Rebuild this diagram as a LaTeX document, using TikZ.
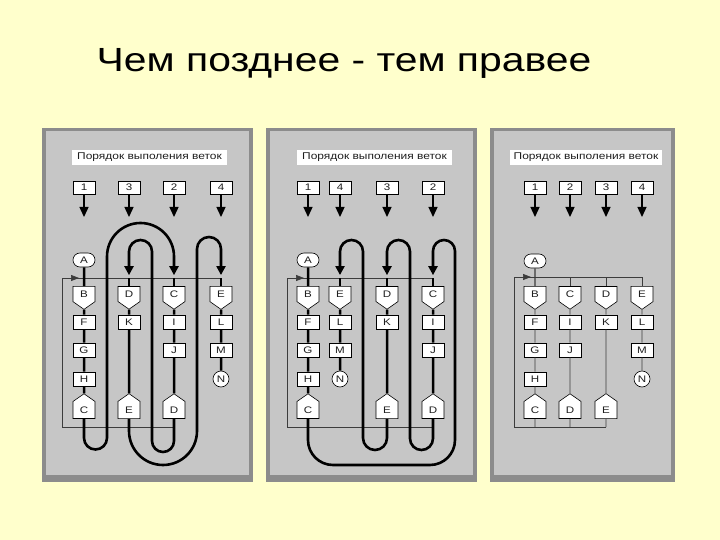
\documentclass[tikz,border=0pt]{standalone}
\usepackage{fontspec}
\setmainfont{Liberation Sans}
\usetikzlibrary{arrows.meta,shapes.symbols,shapes.misc}
\definecolor{slidebg}{RGB}{255,255,204}
\definecolor{panelgray}{RGB}{198,198,198}
\definecolor{paneledge}{RGB}{140,140,140}
\definecolor{inkgray}{RGB}{30,30,30}
\definecolor{framegray}{RGB}{60,60,60}
\newcommand{\wideT}[1]{\scalebox{1.22}[1]{#1}}
\begin{document}
\begin{tikzpicture}[x=1pt,y=-1pt,
  every node/.style={font=\fontsize{9.5}{10}\selectfont, text=inkgray},
  box/.style={draw=black, fill=white, line width=0.6pt, minimum width=22pt, minimum height=14pt, inner sep=0pt},
  numbox/.style={box, minimum height=13pt},
  pill/.style={box, rounded rectangle},
  endpill/.style={box, rounded rectangle, minimum width=16pt, minimum height=16pt},
  forkdown/.style={box, signal, signal to=south, signal pointer angle=110, minimum height=18pt},
  joinup/.style={box, signal, signal to=north, signal pointer angle=110, minimum height=20pt},
  header/.style={fill=white, minimum width=155pt, minimum height=15pt, inner sep=0pt, font=\fontsize{9.8}{10}\selectfont},
  numarrow/.style={line width=1.3pt, -{Triangle[width=9pt,length=10pt]}},
  chain/.style={line width=2.5pt, black},
  loopline/.style={line width=2.6pt, black, -{Triangle[width=9pt,length=9pt]}, shorten >=11pt},
  frame/.style={line width=0.7pt, framegray},
  framearrow/.style={frame, -{Triangle[width=6pt,length=8pt]}},
  thinchain/.style={line width=0.8pt, framegray}
]
\useasboundingbox (0,0) rectangle (720,540);
\fill[slidebg] (0,0) rectangle (720,540);

\node[anchor=base, text=black, font=\fontsize{33.5}{40}\selectfont] (title) at (344,72) {\wideT{Чем позднее - тем правее}};

% panels
\fill[paneledge] (42,128) rectangle (253,482);
\fill[panelgray] (46,131) rectangle (249,475);
\fill[paneledge] (266,128) rectangle (477,482);
\fill[panelgray] (270,131) rectangle (473,475);
\fill[paneledge] (490,128) rectangle (675,482);
\fill[panelgray] (494,131) rectangle (671,475);

% ================= Panel 1 =================
\node[header] (aHd) at (149.5,157.5) {\wideT{Порядок выполения веток}};
\node[numbox] (an1) at (84,187.5) {\wideT{1}};
\node[numbox] (an3) at (129,187.5) {\wideT{3}};
\node[numbox] (an2) at (174,187.5) {\wideT{2}};
\node[numbox] (an4) at (221,187.5) {\wideT{4}};
\coordinate (at1) at (84,217); \coordinate (at3) at (129,217);
\coordinate (at2) at (174,217); \coordinate (at4) at (221,217);
\draw[numarrow] (an1) -- (at1);
\draw[numarrow] (an3) -- (at3);
\draw[numarrow] (an2) -- (at2);
\draw[numarrow] (an4) -- (at4);

\node[pill] (aA) at (84,260) {\wideT{A}};
\node[forkdown] (aB) at (84,294) {\wideT{B}};
\node[forkdown] (aD) at (129,294) {\wideT{D}};
\node[forkdown] (aC) at (174,294) {\wideT{C}};
\node[forkdown] (aE) at (221,294) {\wideT{E}};
\node[box] (aF) at (84,322) {\wideT{F}};
\node[box] (aG) at (84,350) {\wideT{G}};
\node[box] (aHH) at (84,379) {\wideT{H}};
\node[joinup] (aCb) at (84,410) {\wideT{C}};
\node[box] (aK) at (129,322) {\wideT{K}};
\node[joinup] (aEb) at (129,410) {\wideT{E}};
\node[box] (aI) at (174,322) {\wideT{I}};
\node[box] (aJ) at (174,350) {\wideT{J}};
\node[joinup] (aDb) at (174,410) {\wideT{D}};
\node[box] (aL) at (221,322) {\wideT{L}};
\node[box] (aM) at (221,350) {\wideT{M}};
\node[endpill] (aN) at (221,379) {\wideT{N}};

\coordinate (aTL) at (62,278); \coordinate (aBL) at (62,427);
\draw[frame] (aBL) -- (aTL) -- (aTL -| aE);
\draw[frame] (aBL) -- (aBL -| aDb);
\draw[framearrow] (aTL) -- ([xshift=17pt]aTL);

\draw[chain] (aA) -- (aB) -- (aF) -- (aG) -- (aHH) -- (aCb);
\draw[chain] (aC) -- (aI) -- (aJ) -- (aDb);
\draw[chain] (aD) -- (aK) -- (aEb);
\draw[chain] (aE) -- (aL) -- (aM) -- (aN);
\draw[chain] (aTL -| aC) -- (aC);
\draw[chain] (aTL -| aD) -- (aD);
\draw[chain] (aTL -| aE) -- (aE);

\draw[loopline] (aCb.south) [rounded corners=11.5pt] -- (84,449.5) -- (107,449.5) -- (107,330)
  [rounded corners=33.5pt] -- (107,223) -- (174,223) -- (aC.north);
\draw[loopline] (aDb.south) [rounded corners=11pt] -- (174,452) -- (152,452) -- (152,330)
  [rounded corners=11.5pt] -- (152,240) -- (129,240) -- (aD.north);
\draw[loopline] (aEb.south) [rounded corners=34pt] -- (129,465) -- (197,465) -- (197,330)
  [rounded corners=12pt] -- (197,237) -- (221,237) -- (aE.north);

% ================= Panel 2 =================
\node[header] (bHd) at (374.5,157.5) {\wideT{Порядок выполения веток}};
\node[numbox] (bn1) at (308,187.5) {\wideT{1}};
\node[numbox] (bn4) at (340,187.5) {\wideT{4}};
\node[numbox] (bn3) at (387,187.5) {\wideT{3}};
\node[numbox] (bn2) at (433,187.5) {\wideT{2}};
\coordinate (bt1) at (308,217); \coordinate (bt4) at (340,217);
\coordinate (bt3) at (387,217); \coordinate (bt2) at (433,217);
\draw[numarrow] (bn1) -- (bt1);
\draw[numarrow] (bn4) -- (bt4);
\draw[numarrow] (bn3) -- (bt3);
\draw[numarrow] (bn2) -- (bt2);

\node[pill] (bA) at (308,260) {\wideT{A}};
\node[forkdown] (bB) at (308,294) {\wideT{B}};
\node[forkdown] (bE) at (340,294) {\wideT{E}};
\node[forkdown] (bD) at (387,294) {\wideT{D}};
\node[forkdown] (bC) at (433,294) {\wideT{C}};
\node[box] (bF) at (308,322) {\wideT{F}};
\node[box] (bG) at (308,350) {\wideT{G}};
\node[box] (bHH) at (308,379) {\wideT{H}};
\node[joinup] (bCb) at (308,410) {\wideT{C}};
\node[box] (bL) at (340,322) {\wideT{L}};
\node[box] (bM) at (340,350) {\wideT{M}};
\node[endpill] (bN) at (340,379) {\wideT{N}};
\node[box] (bK) at (387,322) {\wideT{K}};
\node[joinup] (bEb) at (387,410) {\wideT{E}};
\node[box] (bI) at (433,322) {\wideT{I}};
\node[box] (bJ) at (433,350) {\wideT{J}};
\node[joinup] (bDb) at (433,410) {\wideT{D}};

\coordinate (bTL) at (287,278); \coordinate (bBL) at (287,427);
\draw[frame] (bBL) -- (bTL) -- (bTL -| bC);
\draw[frame] (bBL) -- (bBL -| bDb);
\draw[framearrow] (bTL) -- ([xshift=17pt]bTL);

\draw[chain] (bA) -- (bB) -- (bF) -- (bG) -- (bHH) -- (bCb);
\draw[chain] (bE) -- (bL) -- (bM) -- (bN);
\draw[chain] (bD) -- (bK) -- (bEb);
\draw[chain] (bC) -- (bI) -- (bJ) -- (bDb);
\draw[chain] (bTL -| bE) -- (bE);
\draw[chain] (bTL -| bD) -- (bD);
\draw[chain] (bTL -| bC) -- (bC);

\draw[loopline] (bCb.south) [rounded corners=25pt] -- (308,465) -- (455,465) -- (455,330)
  [rounded corners=11pt] -- (455,240) -- (433,240) -- (bC.north);
\draw[loopline] (bDb.south) [rounded corners=11.5pt] -- (433,450) -- (410,450) -- (410,330)
  [rounded corners=11.5pt] -- (410,240) -- (387,240) -- (bD.north);
\draw[loopline] (bEb.south) [rounded corners=12pt] -- (387,450) -- (363,450) -- (363,330)
  [rounded corners=11.5pt] -- (363,240) -- (340,240) -- (bE.north);

% ================= Panel 3 =================
\node[header, minimum width=152pt] (cHd) at (586,157.5) {\wideT{Порядок выполения веток}};
\node[numbox] (cn1) at (535,187.5) {\wideT{1}};
\node[numbox] (cn2) at (570,187.5) {\wideT{2}};
\node[numbox] (cn3) at (606,187.5) {\wideT{3}};
\node[numbox] (cn4) at (642,187.5) {\wideT{4}};
\coordinate (ct1) at (535,217); \coordinate (ct2) at (570,217);
\coordinate (ct3) at (606,217); \coordinate (ct4) at (642,217);
\draw[numarrow] (cn1) -- (ct1);
\draw[numarrow] (cn2) -- (ct2);
\draw[numarrow] (cn3) -- (ct3);
\draw[numarrow] (cn4) -- (ct4);

\node[pill] (cA) at (535,261) {\wideT{A}};
\node[forkdown] (cB) at (535,294) {\wideT{B}};
\node[forkdown] (cC) at (570,294) {\wideT{C}};
\node[forkdown] (cD) at (606,294) {\wideT{D}};
\node[forkdown] (cE) at (642,294) {\wideT{E}};
\node[box] (cF) at (535,322) {\wideT{F}};
\node[box] (cG) at (535,350) {\wideT{G}};
\node[box] (cHH) at (535,379) {\wideT{H}};
\node[joinup] (cCb) at (535,410) {\wideT{C}};
\node[box] (cI) at (570,322) {\wideT{I}};
\node[box] (cJ) at (570,350) {\wideT{J}};
\node[joinup] (cDb) at (570,410) {\wideT{D}};
\node[box] (cK) at (606,322) {\wideT{K}};
\node[joinup] (cEb) at (606,410) {\wideT{E}};
\node[box] (cL) at (642,322) {\wideT{L}};
\node[box] (cM) at (642,350) {\wideT{M}};
\node[endpill] (cN) at (642,379) {\wideT{N}};

\coordinate (cTL) at (514,277); \coordinate (cBL) at (514,427);
\draw[frame] (cBL) -- (cTL) -- (cTL -| cE);
\draw[frame] (cBL) -- (cBL -| cEb);
\draw[framearrow] (cTL) -- ([xshift=17pt]cTL);

\draw[thinchain, line width=1.1pt] (cA) -- (cB);
\draw[thinchain] (cB) -- (cF) -- (cG) -- (cHH) -- (cCb);
\draw[thinchain] (cC) -- (cI) -- (cJ) -- (cDb);
\draw[thinchain] (cD) -- (cK) -- (cEb);
\draw[thinchain] (cE) -- (cL) -- (cM) -- (cN);
\draw[thinchain] (cTL -| cC) -- (cC);
\draw[thinchain] (cTL -| cD) -- (cD);
\draw[thinchain] (cTL -| cE) -- (cE);
\draw[thinchain] (cCb) -- (cBL -| cCb);
\draw[thinchain] (cDb) -- (cBL -| cDb);
\draw[thinchain] (cEb) -- (cBL -| cEb);
\end{tikzpicture}
\end{document}
